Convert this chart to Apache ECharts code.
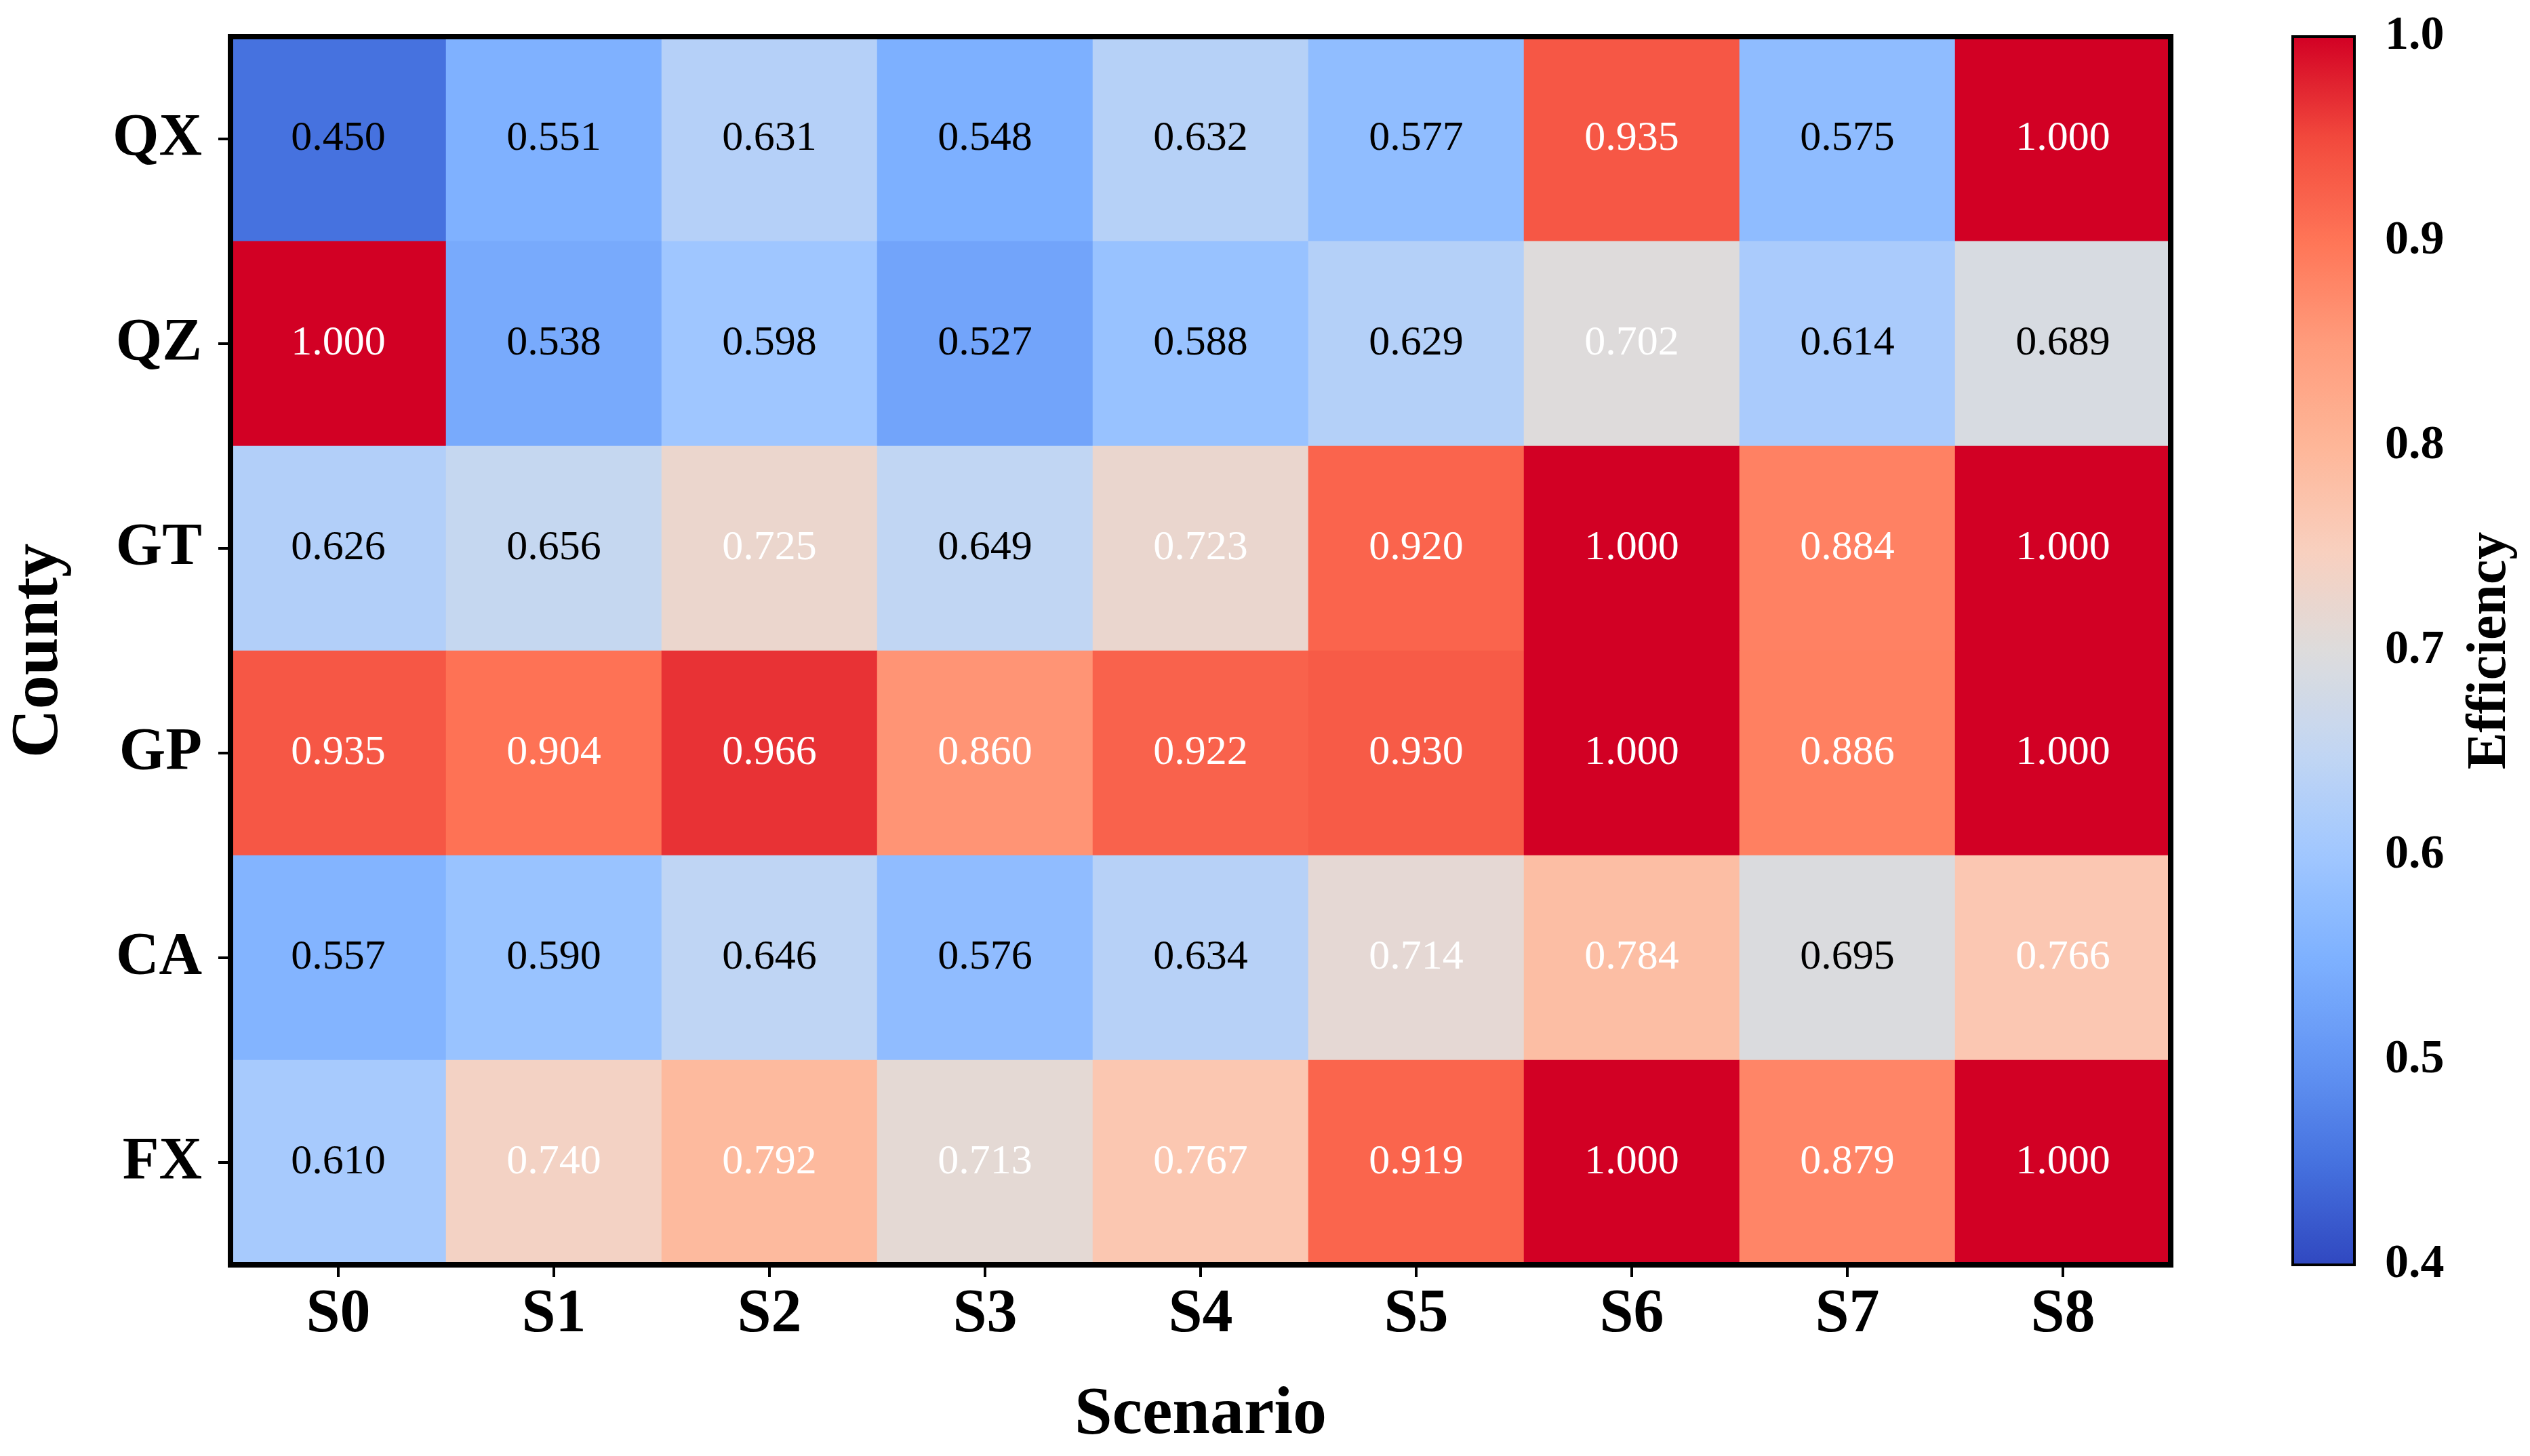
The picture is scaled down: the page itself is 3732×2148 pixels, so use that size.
<!DOCTYPE html>
<html>
<head>
<meta charset="utf-8">
<script src="https://cdn.jsdelivr.net/npm/echarts@6/dist/echarts.min.js"></script>
<style>
html,body{margin:0;padding:0;background:#fff;}
#chart{width:3732px;height:2148px;}
</style>
</head>
<body>
<div id="chart"></div>
<script>
const scenarios = ['S0','S1','S2','S3','S4','S5','S6','S7','S8'];
const counties = ['QX','QZ','GT','GP','CA','FX'];
const valuesQX = [0.450, 0.551, 0.631, 0.548, 0.632, 0.577, 0.935, 0.575, 1.000];
const valuesQZ = [1.000, 0.538, 0.598, 0.527, 0.588, 0.629, 0.702, 0.614, 0.689];
const valuesGT = [0.626, 0.656, 0.725, 0.649, 0.723, 0.920, 1.000, 0.884, 1.000];
const valuesGP = [0.935, 0.904, 0.966, 0.860, 0.922, 0.930, 1.000, 0.886, 1.000];
const valuesCA = [0.557, 0.590, 0.646, 0.576, 0.634, 0.714, 0.784, 0.695, 0.766];
const valuesFX = [0.610, 0.740, 0.792, 0.713, 0.767, 0.919, 1.000, 0.879, 1.000];
const colorbarTicks = [0.4, 0.5, 0.6, 0.7, 0.8, 0.9, 1.0];

const rows = [valuesQX, valuesQZ, valuesGT, valuesGP, valuesCA, valuesFX];
const data = [];
rows.forEach((row, r) => {
  row.forEach((v, c) => {
    data.push({
      value: [c, r, v],
      label: { color: v > 0.7 ? '#ffffff' : '#000000' }
    });
  });
});

const FONT = '"Liberation Serif", "Times New Roman", serif';
const chart = echarts.init(document.getElementById('chart'), null, {renderer: 'canvas', devicePixelRatio: 1});
chart.setOption({
  animation: false,
  backgroundColor: '#ffffff',
  grid: [
    {left: 340, top: 54, width: 2862, height: 1812, containLabel: false, outerBoundsMode: 'none', show: true, borderColor: '#000', borderWidth: 8, backgroundColor: 'transparent', z: 10},
    {left: 3382, top: 54, width: 91, height: 1812, containLabel: false, outerBoundsMode: 'none', show: true, borderColor: '#000', borderWidth: 4, backgroundColor: 'transparent', z: 10}
  ],
  xAxis: [
    {
      type: 'category', gridIndex: 0, data: scenarios,
      axisLine: {show: false},
      axisTick: {show: true, alignWithLabel: true, length: 18, lineStyle: {color: '#000', width: 4}},
      axisLabel: {fontFamily: FONT, fontWeight: 'bold', fontSize: 90, color: '#000', margin: 30},
      splitLine: {show: false},
      name: 'Scenario', nameLocation: 'middle', nameGap: 172,
      nameTextStyle: {fontFamily: FONT, fontWeight: 'bold', fontSize: 100, color: '#000'}
    },
    {type: 'value', gridIndex: 1, show: false, min: 0, max: 1}
  ],
  yAxis: [
    {
      type: 'category', gridIndex: 0, data: counties, inverse: true,
      axisLine: {show: false},
      axisTick: {show: true, alignWithLabel: true, length: 18, lineStyle: {color: '#000', width: 4}},
      axisLabel: {fontFamily: FONT, fontWeight: 'bold', fontSize: 88, color: '#000', margin: 42},
      splitLine: {show: false},
      name: 'County', nameLocation: 'middle', nameGap: 232, nameRotate: 90,
      nameTextStyle: {fontFamily: FONT, fontWeight: 'bold', fontSize: 100, color: '#000'}
    },
    {
      type: 'value', gridIndex: 1, position: 'right', min: 0.4, max: 1.0, interval: 0.1,
      axisLine: {show: false},
      axisTick: {show: true, inside: false, length: 22, lineStyle: {color: '#000', width: 4}},
      axisLabel: {fontFamily: FONT, fontWeight: 'bold', fontSize: 70, color: '#000', margin: 45,
        formatter: v => { const t = colorbarTicks.find(x => Math.abs(x - v) < 1e-6); return t !== undefined ? t.toFixed(1) : ''; }},
      splitLine: {show: false},
      name: 'Efficiency', nameLocation: 'middle', nameGap: 160, nameRotate: 90,
      nameTextStyle: {fontFamily: FONT, fontWeight: 'bold', fontSize: 82, color: '#000'}
    }
  ],
  visualMap: {
    type: 'continuous', seriesIndex: 0, min: 0.4, max: 1.0, calculable: false,
    orient: 'vertical', left: 3382, top: 54, itemWidth: 91, itemHeight: 1812, padding: 0,
    borderWidth: 0, showLabel: false, text: null,
    inRange: {color: ['#3048c0','#4672df','#6395f4','#7eb1ff','#a0c7ff','#c2d6f3','#dddcdc','#f9cfbe','#feb698','#ff9c7c','#ff7557','#f24a3d','#d20024']}
  },
  series: [
    {
      type: 'heatmap', xAxisIndex: 0, yAxisIndex: 0, data: data,
      label: {show: true, fontFamily: FONT, fontSize: 62, formatter: p => p.value[2].toFixed(3)},
      itemStyle: {borderWidth: 0},
      emphasis: {disabled: true}
    },
    {type: 'scatter', xAxisIndex: 1, yAxisIndex: 1, data: [], silent: true}
  ]
});
</script>
</body>
</html>
